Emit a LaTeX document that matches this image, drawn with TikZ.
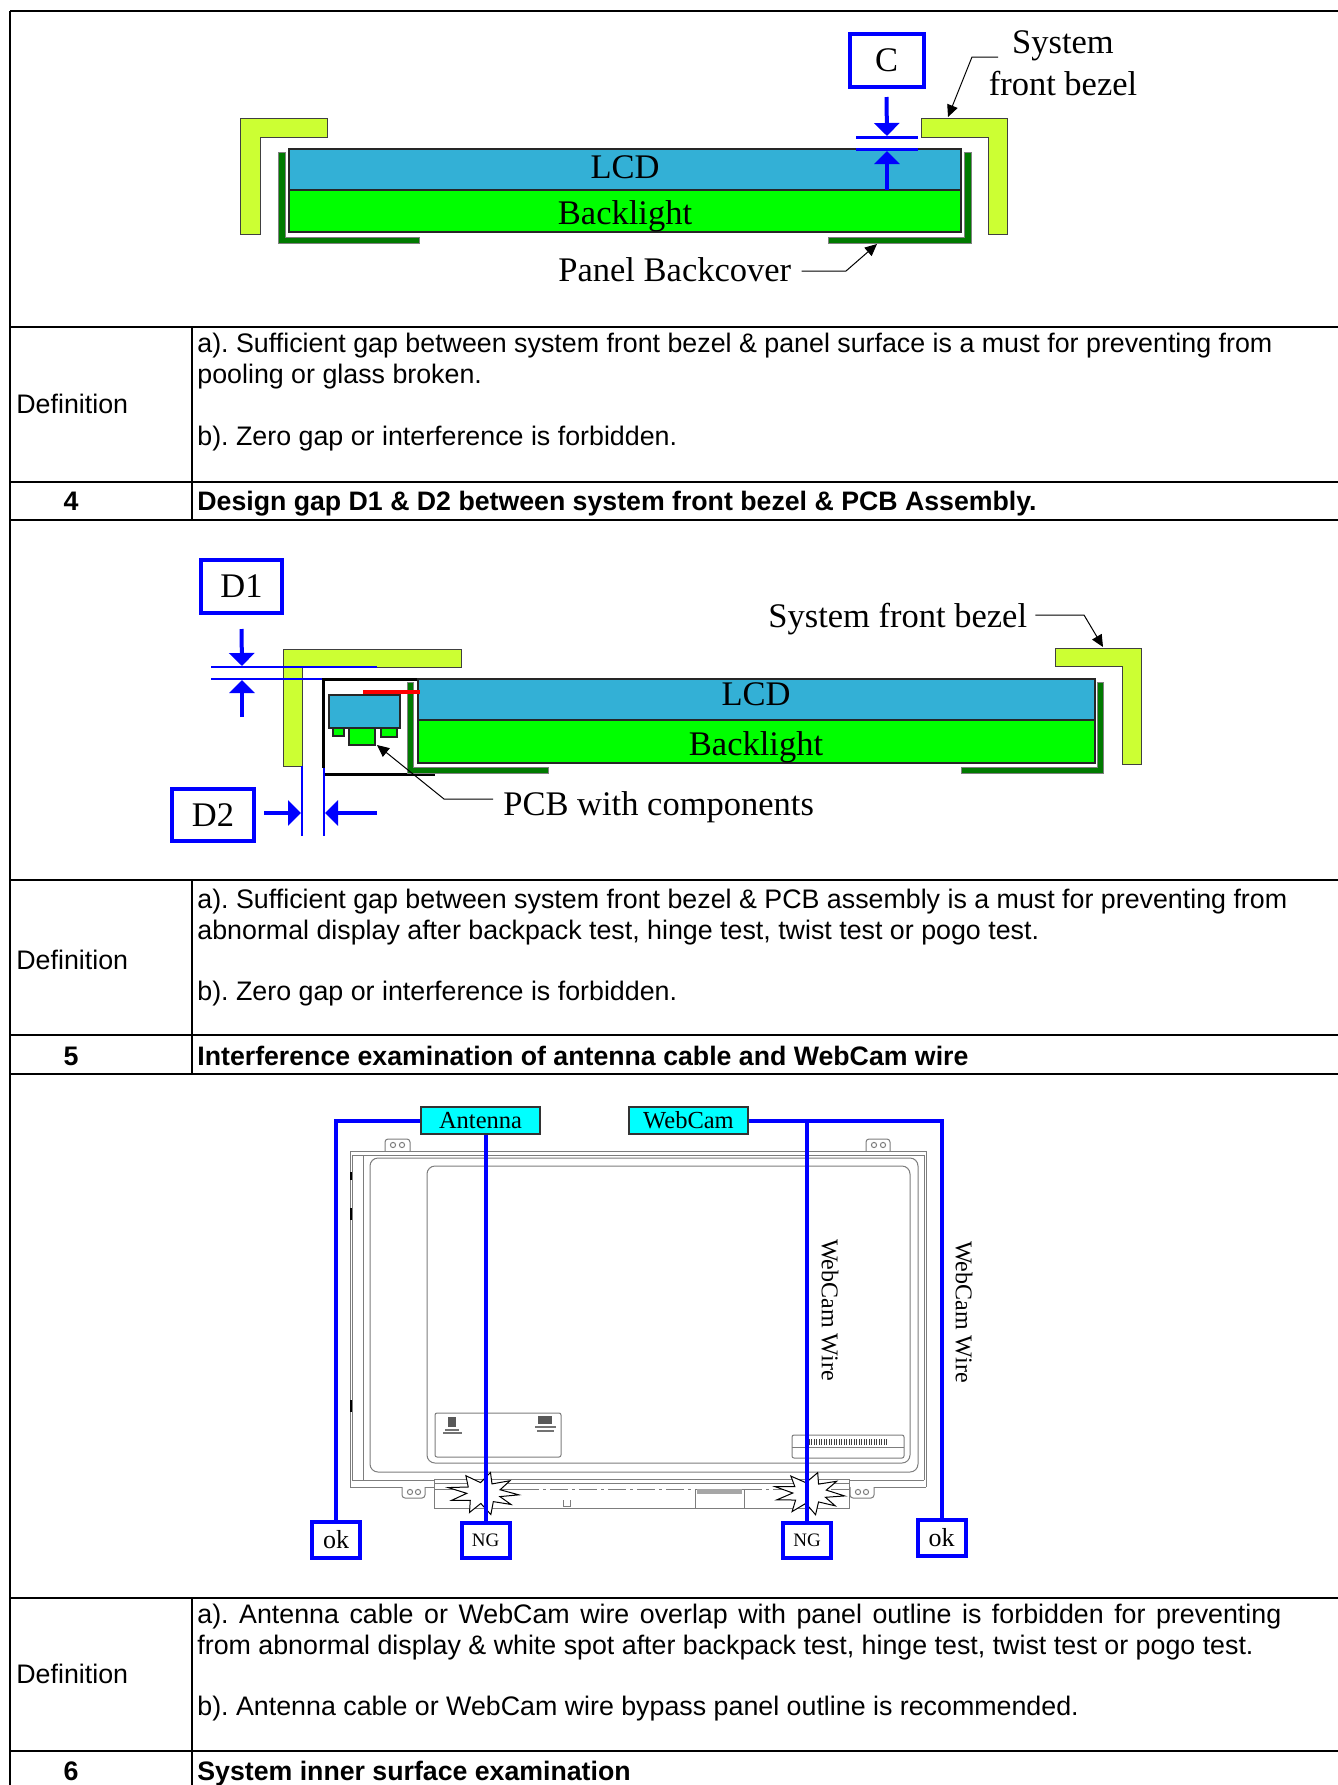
\documentclass[tikz,border=0pt]{standalone}
\usepackage{fontspec}
\setmainfont{Liberation Serif}
\newfontfamily\arialf{Liberation Sans}
\usetikzlibrary{arrows.meta,calc}
\definecolor{bezelc}{RGB}{204,255,51}
\definecolor{lcdc}{RGB}{51,176,214}
\definecolor{blc}{RGB}{0,255,0}
\definecolor{bcc}{RGB}{0,122,0}
\definecolor{blu}{RGB}{0,0,255}
\definecolor{cyanc}{RGB}{0,255,255}
\definecolor{pgray}{RGB}{125,125,125}
\frenchspacing
\begin{document}
\frenchspacing
\begin{tikzpicture}[x=0.5pt,y=-0.5pt,
  hline/.style={line width=1.25pt},
  vline/.style={line width=0.7pt},
  tabtxt/.style={font=\arialf\frenchspacing\fontsize{13.4}{15.5}\selectfont, anchor=base west, inner sep=0pt},
  tabbold/.style={font=\arialf\bfseries\fontsize{13.35}{15.5}\selectfont, anchor=base west, inner sep=0pt},
  numtxt/.style={font=\arialf\bfseries\fontsize{13.4}{15.5}\selectfont, anchor=base, inner sep=0pt},
  bigtxt/.style={font=\fontsize{17.25}{21}\selectfont, inner sep=0pt},
  bezel/.style={fill=bezelc, draw=black!75, line width=0.5pt},
  bcover/.style={fill=bcc, draw=black!50, line width=0.3pt},
  lcd/.style={fill=lcdc, draw=black!85, line width=0.6pt},
  blight/.style={fill=blc, draw=black!85, line width=0.6pt},
  dimbox/.style={draw=blu, line width=2pt, inner sep=0pt, font=\fontsize{17.25}{21}\selectfont},
  dimarrow/.style={blu, line width=2pt, -{Triangle[width=12.5pt,length=6.5pt]}},
  dimline/.style={blu, line width=0.7pt},
  leader/.style={black, line width=0.5pt, -{Triangle[width=5.5pt,length=6pt]}},
  wire/.style={blu, line width=2pt},
  tagbox/.style={draw=blu, line width=2pt, inner sep=0pt, fill=white},
  cyanbox/.style={fill=cyanc, draw=black!80, line width=0.6pt, inner sep=0pt, minimum height=13.5pt, font=\fontsize{12.25}{14}\selectfont},
  pline/.style={draw=pgray, line width=0.5pt},
  burst/.style={fill=white, draw=black, line width=0.5pt},
]
\useasboundingbox (0,0) rectangle (1338,1785);
\fill[white] (0,0) rectangle (1338,1785);

%================ TABLE =================
\draw[hline] (10,11) -- (1338,11);
\foreach \yy in {327,482,520,880,1035,1074,1598,1751} \draw[hline] (10,\yy) -- (1338,\yy);
\draw[vline] (10,11) -- (10,1785);
\draw[vline] (192,327) -- (192,520);
\draw[vline] (192,880) -- (192,1074);
\draw[vline] (192,1598) -- (192,1785);

\node[tabtxt] (def1) at (16,413) {Definition};
\node[tabtxt] (d1a) at (197,352) {a). Sufficient gap between system front bezel \& panel surface is a must for preventing from};
\node[tabtxt] (d1b) at (197,383) {pooling or glass broken.};
\node[tabtxt] (d1c) at (197,445) {b). Zero gap or interference is forbidden.};
\node[numtxt] (n4) at (71,510) {4};
\node[tabbold] (t4) at (197,510) {Design gap D1 \& D2 between system front bezel \& PCB Assembly.};

\node[tabtxt] (def2) at (16,969) {Definition};
\node[tabtxt] (d2a) at (197,908) {a). Sufficient gap between system front bezel \& PCB assembly is a must for preventing from};
\node[tabtxt] (d2b) at (197,939) {abnormal display after backpack test, hinge test, twist test or pogo test.};
\node[tabtxt] (d2c) at (197,1000) {b). Zero gap or interference is forbidden.};
\node[numtxt] (n5) at (71,1065) {5};
\node[tabbold] (t5) at (197,1065) {Interference examination of antenna cable and WebCam wire};

\node[tabtxt] (def3) at (16,1683) {Definition};
\node[tabtxt] (d3a) at (197,1623) {\makebox[542pt][s]{a). Antenna cable or WebCam wire overlap with panel outline is forbidden for preventing}};
\node[tabtxt] (d3b) at (197,1654) {from abnormal display \& white spot after backpack test, hinge test, twist test or pogo test.};
\node[tabtxt] (d3c) at (197,1715) {b). Antenna cable or WebCam wire bypass panel outline is recommended.};
\node[numtxt] (n6) at (71,1780) {6};
\node[tabbold] (t6) at (197,1780) {System inner surface examination};

%================ DIAGRAM 1 =================
\filldraw[bezel] (240,118) -- (327,118) -- (327,137) -- (260,137) -- (260,234) -- (240,234) -- cycle;
\filldraw[bezel] (921,118) -- (1007,118) -- (1007,234) -- (988,234) -- (988,137) -- (921,137) -- cycle;
\filldraw[bcover] (278,152) -- (285,152) -- (285,237) -- (419,237) -- (419,243) -- (278,243) -- cycle;
\filldraw[bcover] (964,152) -- (971,152) -- (971,243) -- (828,243) -- (828,237) -- (964,237) -- cycle;
\draw[lcd] (289,149) rectangle (961,190);
\draw[blight] (289,190) rectangle (961,232);
\node[bigtxt] (lcdA) at (625,167) {LCD};
\node[bigtxt] (blA) at (625,216.5) {Backlight};

\node[dimbox, minimum width=37pt, minimum height=26.5pt] (C) at (886.5,60.5) {C};
\draw[dimline, line width=1.5pt] (856,137) -- (918,137);
\draw[dimline, line width=1.5pt] (856,149) -- (918,149);
\coordinate (Cgapt) at (887,136);
\coordinate (Cgapb) at (887,151);
\coordinate (Cfrom) at (887,190);
\draw[dimarrow] ([yshift=-4pt]C.south) -- (Cgapt);
\draw[dimarrow] (Cfrom) -- (Cgapb);

\node[bigtxt, anchor=base] (sysbez) at (1063,53) {\begin{tabular}[t]{@{}c@{}}System\\front bezel\end{tabular}};
\coordinate (sysL) at (998,57);
\coordinate (sysK) at (972,57);
\coordinate (rbez1) at (948,117);
\draw[leader] (sysL) -- (sysK) -- (rbez1);

\node[bigtxt, anchor=base west] (pbc) at (558,281) {Panel Backcover};
\coordinate (pbcK) at (846,271);
\coordinate (rbc1) at (877,244);
\draw[leader] ([xshift=5pt]pbc.east |- pbcK) -- (pbcK) -- (rbc1);

%================ DIAGRAM 2 =================
\filldraw[bezel] (283,649) -- (461,649) -- (461,667) -- (302,667) -- (302,766) -- (283,766) -- cycle;
\filldraw[bezel] (1055,648) -- (1141,648) -- (1141,764) -- (1122,764) -- (1122,666) -- (1055,666) -- cycle;
\draw[dimline] (211,667) -- (377,667);
\draw[dimline] (211,679) -- (323,679);
\draw[black, line width=1.5pt] (423,679) -- (323,679) -- (323,768);
\draw[black, line width=1.5pt] (323,774) -- (435,774);
\filldraw[bcover] (407,682) -- (413,682) -- (413,767) -- (548,767) -- (548,773) -- (407,773) -- cycle;
\filldraw[bcover] (1097,682) -- (1103,682) -- (1103,773) -- (961,773) -- (961,767) -- (1097,767) -- cycle;
\draw[lcd] (418,679) rectangle (1095,720);
\draw[blight] (418,720) rectangle (1095,763);
\node[bigtxt] (lcdB) at (756,694) {LCD};
\node[bigtxt] (blB) at (756,747.5) {Backlight};
% PCB
\draw[lcd] (329,695) rectangle (400,728);
\draw[blight] (333,728) rectangle (344,736);
\draw[blight] (349,728) rectangle (375,745);
\draw[blight] (381,728) rectangle (397,737);
\draw[red, line width=2pt] (363,692) -- (420,692);
% dimension D1 / D2
\draw[dimline] (302,766) -- (302,836);
\draw[dimline] (324,768) -- (324,836);
\node[dimbox, minimum width=40.5pt, minimum height=26.5pt] (D1) at (241.5,586.5) {D1};
\node[dimbox, minimum width=41pt, minimum height=26pt] (D2) at (213,815) {D2};
\coordinate (d1a) at (242,666);
\coordinate (d1b) at (242,680);
\coordinate (d1c) at (242,717);
\draw[dimarrow] ([yshift=-7pt]D1.south) -- (d1a);
\draw[dimarrow] (d1c) -- (d1b);
\coordinate (d2a) at (301,813);
\coordinate (d2b) at (325,813);
\coordinate (d2c) at (377,813);
\draw[dimarrow] ([xshift=4pt]D2.east |- d2a) -- (d2a);
\draw[dimarrow] (d2c) -- (d2b);

\node[bigtxt, anchor=base west] (sfb2) at (768,627) {System front bezel};
\coordinate (sfbK) at (1084,615);
\coordinate (rbez2) at (1103,647);
\draw[leader] ([xshift=4pt]sfb2.east |- sfbK) -- (sfbK) -- (rbez2);

\node[bigtxt, anchor=base west] (pcbl) at (503,815) {PCB with components};
\coordinate (pcbK) at (444,799);
\coordinate (pcbT) at (377,745);
\draw[leader] ([xshift=-5pt]pcbl.west |- pcbK) -- (pcbK) -- (pcbT);

%================ DIAGRAM 3 =================
% panel outline
\draw[pline] (350,1487) -- (350,1151) -- (926,1151) -- (926,1487);
\draw[pline] (352,1480) -- (352,1155) -- (924,1155) -- (924,1480);
\draw[pline] (363,1155) -- (363,1480);
\draw[pline, rounded corners=1.5pt] (385,1151) -- (385,1139) -- (410,1139) -- (410,1151);
\draw[pline] (393,1145) circle (1.3pt) (402,1145) circle (1.3pt);
\draw[pline, rounded corners=1.5pt] (866,1151) -- (866,1139) -- (890,1139) -- (890,1151);
\draw[pline] (874,1145) circle (1.3pt) (883,1145) circle (1.3pt);
\draw[pline] (350,1487) -- (402,1487);
\draw[pline, rounded corners=1.5pt] (402,1487) -- (402,1498) -- (425,1498) -- (425,1487);
\draw[pline] (425,1487) -- (434,1487);
\draw[pline] (410,1492) circle (1.3pt) (418,1492) circle (1.3pt);
\draw[pline] (849,1487) -- (850,1487);
\draw[pline, rounded corners=1.5pt] (850,1487) -- (850,1498) -- (874,1498) -- (874,1487);
\draw[pline] (874,1487) -- (926,1487);
\draw[pline] (858,1492) circle (1.3pt) (866,1492) circle (1.3pt);
\draw[pline] (352,1480) -- (434,1480);
\draw[pline] (849,1480) -- (924,1480);
\draw[pline, rounded corners=4pt] (370,1158) rectangle (918,1472);
\draw[pline, rounded corners=4pt] (427,1166) rectangle (910,1463);
\draw[black, line width=1pt] (351,1172) -- (351,1180) (351,1208) -- (351,1220) (351,1400) -- (351,1412);
% label
\draw[pline, rounded corners=1pt] (435,1413) rectangle (561,1457);
\fill[black!65] (448,1417) rectangle (456,1427);
\fill[black!55] (445,1429) rectangle (459,1430.5);
\fill[black!55] (443,1432) rectangle (462,1433.5);
\fill[black!65] (538,1416) rectangle (552,1424);
\fill[black!55] (535,1426) rectangle (556,1428);
\fill[black!55] (537,1430) rectangle (554,1431.5);
% barcode label
\draw[pline, rounded corners=1pt] (792,1435) rectangle (904,1458);
\draw[pline] (792,1447) -- (904,1447);
\foreach \xx in {809,811.5,...,887} \draw[black!75, line width=0.45pt] (\xx,1439) -- (\xx,1445);
% PCB strip
\draw[pline] (434,1479) rectangle (849,1508);
\draw[pline] (434,1483) -- (849,1483);
\draw[pline] (434,1489) -- (521,1489);
\draw[pline, dash pattern=on 9pt off 2pt on 1.5pt off 2pt] (521,1489) -- (695,1489);
\draw[pline, dash pattern=on 9pt off 2pt on 1.5pt off 2pt] (744,1489) -- (849,1489);
\draw[pline] (695,1489) rectangle (744,1508);
\fill[black!35] (697,1489) rectangle (742,1494);
\draw[pline] (563,1500) -- (563,1506) -- (570,1506) -- (570,1500);
% starbursts
\begin{scope}[shift={(483,1493)}, xscale=36, yscale=21]
\filldraw[burst] (5:1) -- (20:0.5) -- (35:0.95) -- (55:0.5) -- (78:1.05) -- (97:0.5) -- (112:1.0) -- (135:0.5) -- (158:0.95) -- (178:0.45) -- (195:1.0) -- (215:0.5) -- (240:0.95) -- (262:0.5) -- (282:1.0) -- (300:0.5) -- (322:0.95) -- (342:0.5) -- cycle;
\end{scope}
\begin{scope}[shift={(809,1493)}, xscale=36, yscale=21]
\filldraw[burst] (8:1) -- (24:0.5) -- (40:0.95) -- (58:0.5) -- (80:1.05) -- (100:0.5) -- (118:1.0) -- (138:0.5) -- (160:0.95) -- (180:0.45) -- (198:1.0) -- (218:0.5) -- (238:0.95) -- (260:0.5) -- (284:1.0) -- (302:0.5) -- (324:0.95) -- (344:0.5) -- cycle;
\end{scope}

% labels and wires
\node[cyanbox, minimum width=59.5pt] (Ant) at (480.5,1120.5) {Antenna};
\node[cyanbox, minimum width=59.5pt] (Web) at (688.5,1120.5) {WebCam};
\node[tagbox, minimum width=24pt, minimum height=18pt, font=\fontsize{13}{15}\selectfont] (ok1) at (336,1540) {ok};
\node[tagbox, minimum width=24pt, minimum height=17.5pt, font=\fontsize{9.5}{11}\selectfont] (NG1) at (485.5,1540.5) {NG};
\node[tagbox, minimum width=24pt, minimum height=17.5pt, font=\fontsize{9.5}{11}\selectfont] (NG2) at (807,1540.5) {NG};
\node[tagbox, minimum width=24pt, minimum height=18pt, font=\fontsize{13}{15}\selectfont] (ok2) at (941.5,1538) {ok};
\draw[wire] (Ant.west) -- (ok1.north |- Ant.west) -- (ok1.north);
\draw[wire] (NG1.north |- Ant.south) -- (NG1.north);
\draw[wire] (Web.east) -- (ok2.north |- Web.east) -- (ok2.north);
\draw[wire] (NG2.north |- Web.east) -- (NG2.north);
\node[rotate=-90, font=\fontsize{12}{14}\selectfont, inner sep=0pt] (ww1) at (830,1310) {WebCam Wire};
\node[rotate=-90, font=\fontsize{12}{14}\selectfont, inner sep=0pt] (ww2) at (964,1312) {WebCam Wire};
\end{tikzpicture}
\end{document}
